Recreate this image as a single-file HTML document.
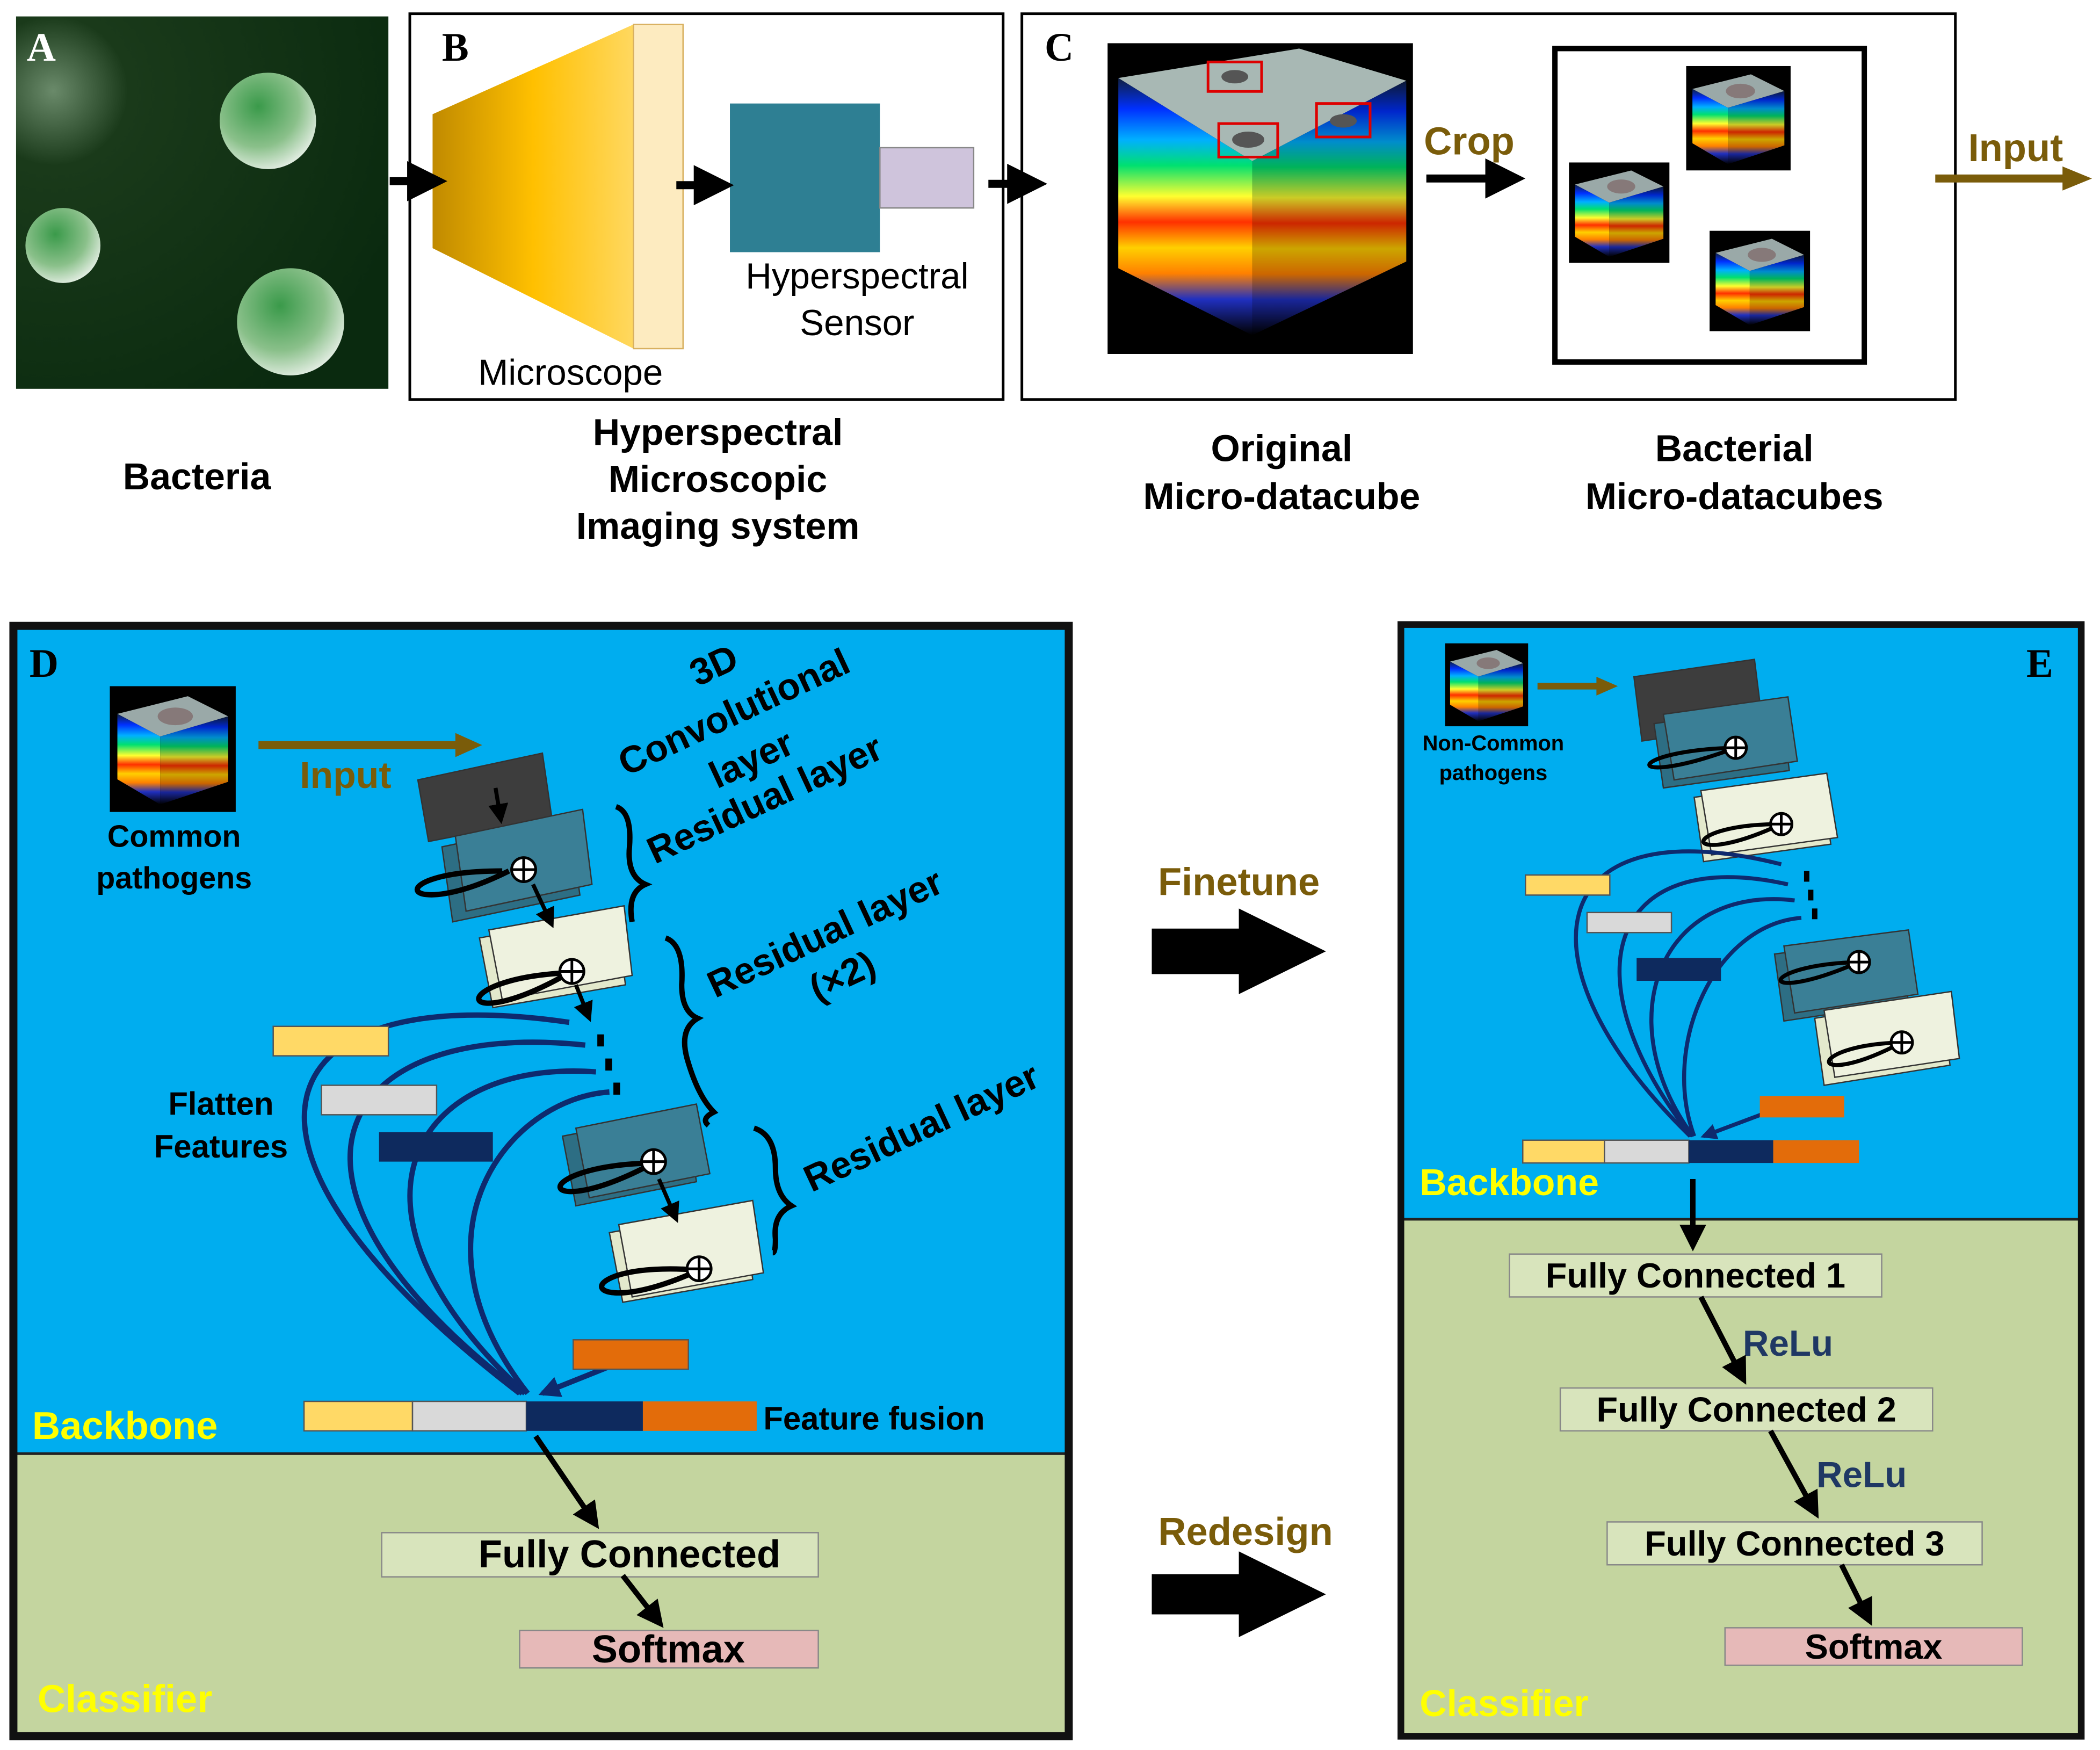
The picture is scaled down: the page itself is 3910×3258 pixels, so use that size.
<!DOCTYPE html>
<html><head><meta charset="utf-8"><style>
html,body{margin:0;padding:0;background:#fff}
svg{display:block}
text{font-family:"Liberation Sans",sans-serif}
text.serif{font-family:"Liberation Serif",serif}
.b{font-weight:bold}
</style></head><body>
<svg width="3910" height="3258" viewBox="0 0 1568 1306" xmlns="http://www.w3.org/2000/svg">
<defs>
<linearGradient id="spec" x1="0" y1="0" x2="0" y2="1">
<stop offset="0" stop-color="#102040"/><stop offset=".12" stop-color="#0030ff"/><stop offset=".24" stop-color="#00b0ff"/><stop offset=".34" stop-color="#00e070"/><stop offset=".46" stop-color="#ffff30"/><stop offset=".56" stop-color="#ff3000"/><stop offset=".66" stop-color="#ffd000"/><stop offset=".76" stop-color="#ff8000"/><stop offset=".86" stop-color="#2030c0"/><stop offset="1" stop-color="#000"/></linearGradient>
<linearGradient id="yel" x1="0" y1="0" x2="1" y2="0"><stop offset="0" stop-color="#c08a00"/><stop offset=".5" stop-color="#ffc000"/><stop offset="1" stop-color="#ffd860"/></linearGradient>
<radialGradient id="bg" cx=".1" cy=".2" r="1"><stop offset="0" stop-color="#6a8a6a"/><stop offset=".2" stop-color="#1a3a1a"/><stop offset="1" stop-color="#0a2a0f"/></radialGradient>
<radialGradient id="sph" cx=".4" cy=".35" r=".7"><stop offset="0" stop-color="#3a9a4a"/><stop offset=".6" stop-color="#8ac08a"/><stop offset="1" stop-color="#e8f0e8"/></radialGradient>
<symbol id="cube" viewBox="0 0 100 100">
<rect width="100" height="100" fill="#000"/>
<polygon points="6,22 62,8 94,24 40,40" fill="#9aa9a8"/>
<ellipse cx="52" cy="24" rx="14" ry="7" fill="#7a5a5a" opacity=".6"/>
<polygon points="6,22 40,40 40,94 6,74" fill="url(#spec)"/>
<polygon points="40,40 94,24 94,76 40,94" fill="url(#spec)"/>
<polygon points="40,40 94,24 94,76 40,94" fill="#000" opacity=".2"/>
</symbol>
<marker id="ah" viewBox="0 0 10 10" refX="8" refY="5" markerWidth="5" markerHeight="5" orient="auto"><path d="M0,0L10,5L0,10z" fill="#000"/></marker>
<marker id="ahn" viewBox="0 0 10 10" refX="8" refY="5" markerWidth="4" markerHeight="4" orient="auto"><path d="M0,0L10,5L0,10z" fill="#0e2a6e"/></marker>
</defs>

<!-- A -->
<rect x="12" y="12" width="278" height="278" fill="url(#bg)"/>
<circle cx="200" cy="90" r="36" fill="url(#sph)"/>
<circle cx="47" cy="183" r="28" fill="url(#sph)"/>
<circle cx="217" cy="240" r="40" fill="url(#sph)"/>
<text x="20" y="45" class="b serif" font-size="30" fill="#fff">A</text>
<!-- B -->
<rect x="306" y="10" width="443" height="288" fill="none" stroke="#000" stroke-width="2"/>
<text x="330" y="45" class="b serif" font-size="30">B</text>
<polygon points="323,85 473,18 473,260 323,185" fill="url(#yel)"/>
<rect x="473" y="18" width="37" height="242" fill="#fdebc0" stroke="#d8b060"/>
<rect x="545" y="77" width="112" height="111" fill="#2e7f93"/>
<rect x="657" y="110" width="70" height="45" fill="#cfc4dc" stroke="#888"/>
<text x="640" y="215" font-size="27" text-anchor="middle">Hyperspectral</text>
<text x="640" y="250" font-size="27" text-anchor="middle">Sensor</text>
<text x="426" y="287" font-size="27" text-anchor="middle">Microscope</text>
<g stroke="#000" stroke-width="6" marker-end="url(#ah)">
<line x1="291" y1="135" x2="328" y2="135"/><line x1="505" y1="138" x2="542" y2="138"/><line x1="738" y1="137" x2="776" y2="137"/>
<line x1="1065" y1="133" x2="1133" y2="133"/></g>
<!-- C -->
<rect x="763" y="10" width="697" height="288" fill="none" stroke="#000" stroke-width="2"/>
<text x="780" y="45" class="b serif" font-size="30">C</text>
<rect x="827" y="32" width="228" height="232" fill="#000"/>
<polygon points="835,58 970,36 1050,60 935,120" fill="#a8b8b4"/>
<polygon points="835,58 935,120 935,250 835,200" fill="url(#spec)"/>
<polygon points="935,120 1050,60 1050,195 935,250" fill="url(#spec)"/>
<polygon points="935,120 1050,60 1050,195 935,250" fill="#000" opacity=".2"/>
<g fill="none" stroke="#d00" stroke-width="2"><rect x="902" y="46" width="40" height="22"/><rect x="910" y="92" width="44" height="25"/><rect x="983" y="77" width="40" height="25"/></g>
<g fill="#555"><ellipse cx="922" cy="57" rx="10" ry="5"/><ellipse cx="932" cy="104" rx="12" ry="6"/><ellipse cx="1003" cy="90" rx="10" ry="5"/></g>
<text x="1097" y="115" class="b" font-size="29" fill="#7a5c0a" text-anchor="middle">Crop</text>
<rect x="1161" y="36" width="231" height="234" fill="none" stroke="#000" stroke-width="4"/>
<use href="#cube" x="1259" y="49" width="78" height="78"/>
<use href="#cube" x="1170" y="121" width="78" height="75"/>
<use href="#cube" x="1275" y="172" width="78" height="75"/>
<line x1="1445" y1="133" x2="1545" y2="133" stroke="#7a5c0a" stroke-width="6"/>
<polygon points="1540,124 1562,133 1540,142" fill="#7a5c0a"/>
<text x="1505" y="120" class="b" font-size="29" fill="#7a5c0a" text-anchor="middle">Input</text>
<g class="b" font-size="28" text-anchor="middle">
<text x="147" y="365">Bacteria</text>
<text x="536" y="332">Hyperspectral</text><text x="536" y="367">Microscopic</text><text x="536" y="402">Imaging system</text>
<text x="957" y="344">Original</text><text x="957" y="380">Micro-datacube</text>
<text x="1295" y="344">Bacterial</text><text x="1295" y="380">Micro-datacubes</text>
</g>

<!-- D -->
<rect x="10" y="467" width="788" height="618" fill="#00adef"/>
<rect x="10" y="1085" width="788" height="211" fill="#c4d59f"/>
<line x1="10" y1="1085" x2="798" y2="1085" stroke="#222" stroke-width="2"/>
<rect x="10" y="467" width="788" height="829" fill="none" stroke="#111" stroke-width="6"/>
<text x="22" y="505" class="b serif" font-size="30">D</text>
<use href="#cube" x="78" y="512" width="102" height="94"/>
<line x1="193" y1="556" x2="345" y2="556" stroke="#7a5c0a" stroke-width="6"/>
<polygon points="340,547 360,556 340,565" fill="#7a5c0a"/>
<text x="258" y="588" class="b" font-size="28" fill="#7a5c0a" text-anchor="middle">Input</text>
<text x="130" y="632" class="b" font-size="23" text-anchor="middle">Common</text>
<text x="130" y="663" class="b" font-size="23" text-anchor="middle">pathogens</text>
<g class="b" font-size="28" text-anchor="middle">
<text transform="translate(537,505) rotate(-25)">3D</text>
<text transform="translate(552,540) rotate(-25)">Convolutional</text>
<text transform="translate(565,575) rotate(-25)">layer</text>
<text transform="translate(575,605) rotate(-25)">Residual layer</text>
<text transform="translate(620,705) rotate(-25)">Residual layer</text>
<text transform="translate(633,737) rotate(-25)">(×2)</text>
<text transform="translate(692,850) rotate(-25)">Residual layer</text>
</g>
<g fill="none" stroke="#000" stroke-width="4">
<path d="M460,602 q12,4 10,30 q-2,22 12,28 q-14,6 -10,28"/>
<path d="M497,700 q14,5 12,35 q0,20 12,25 q-14,8 -8,30 q8,28 20,40 q-10,5 -4,10"/>
<path d="M563,842 q16,5 16,30 q0,20 12,28 q-14,6 -12,25 q0,10 -2,10"/>
</g>
<g stroke="#333" stroke-width="1">
<polygon points="312,582 405,562 412,610 320,628" fill="#3d3d3d"/>
<polygon points="330,632 425,612 433,668 338,688" fill="#2d6e84"/>
<polygon points="340,624 435,604 442,660 348,680" fill="#3a7f96"/>
<polygon points="358,700 460,682 467,735 368,752" fill="#e3e9cc"/>
<polygon points="365,694 466,676 472,728 375,746" fill="#eef2df"/>
<polygon points="420,848 512,830 520,882 430,900" fill="#2d6e84"/>
<polygon points="430,842 520,824 530,876 440,894" fill="#3a7f96"/>
<polygon points="455,920 556,902 562,955 465,972" fill="#e3e9cc"/>
<polygon points="462,914 562,896 570,950 472,968" fill="#eef2df"/>
</g>
<g fill="none" stroke="#000" stroke-width="4">
<path d="M375,650 C280,650 300,690 380,650"/>
<path d="M425,726 C330,730 340,775 425,726"/>
<path d="M488,868 C390,870 400,915 488,868"/>
<path d="M522,948 C420,940 430,990 522,948"/>
</g>
<g fill="#fff" stroke="#000" stroke-width="2"><circle cx="391" cy="649" r="9"/><circle cx="427" cy="725" r="9"/><circle cx="488" cy="867" r="9"/><circle cx="522" cy="947" r="9"/></g>
<g stroke="#000" stroke-width="2"><path d="M382,649h18M391,640v18M418,725h18M427,716v18M479,867h18M488,858v18M513,947h18M522,938v18"/></g>
<g stroke="#000" stroke-width="3" marker-end="url(#ah)"><line x1="370" y1="588" x2="374" y2="612"/><line x1="398" y1="660" x2="412" y2="690"/><line x1="430" y1="735" x2="440" y2="760"/><line x1="492" y1="880" x2="505" y2="910"/></g>
<g fill="#000"><rect x="446" y="772" width="5" height="9"/><rect x="452" y="790" width="5" height="9"/><rect x="458" y="808" width="5" height="9"/></g>
<g fill="none" stroke="#0e2a6e" stroke-width="4">
<path d="M425,763 C200,730 140,850 388,1040"/>
<path d="M437,780 C250,760 180,880 390,1040"/>
<path d="M445,800 C310,790 240,900 392,1040"/>
<path d="M455,815 C380,820 300,920 394,1040"/>
<path d="M460,1018 L405,1040" marker-end="url(#ahn)"/>
</g>
<rect x="204" y="766" width="86" height="22" fill="#ffd966" stroke="#555"/>
<rect x="240" y="810" width="86" height="22" fill="#d9d9d9" stroke="#555"/>
<rect x="283" y="845" width="85" height="22" fill="#0e2a5e"/>
<rect x="428" y="1000" width="86" height="22" fill="#e36c0a" stroke="#555"/>
<rect x="227" y="1046" width="81" height="22" fill="#ffd966" stroke="#555"/>
<rect x="308" y="1046" width="85" height="22" fill="#d9d9d9" stroke="#555"/>
<rect x="393" y="1046" width="87" height="22" fill="#0e2a5e"/>
<rect x="480" y="1046" width="85" height="22" fill="#e36c0a"/>
<text x="570" y="1067" class="b" font-size="24">Feature fusion</text>
<text x="165" y="832" class="b" font-size="24" text-anchor="middle">Flatten</text>
<text x="165" y="864" class="b" font-size="24" text-anchor="middle">Features</text>
<text x="24" y="1074" class="b" font-size="29" fill="#ffff00">Backbone</text>
<text x="28" y="1278" class="b" font-size="29" fill="#ffff00">Classifier</text>
<rect x="285" y="1144" width="326" height="33" fill="#d8e4bc" stroke="#888"/>
<text x="470" y="1170" class="b" font-size="29" text-anchor="middle">Fully Connected</text>
<rect x="388" y="1217" width="223" height="28" fill="#e6b9b8" stroke="#888"/>
<text x="499" y="1241" class="b" font-size="29" text-anchor="middle">Softmax</text>
<g stroke="#000" stroke-width="4" marker-end="url(#ah)"><line x1="400" y1="1072" x2="445" y2="1138"/><line x1="465" y1="1176" x2="493" y2="1212"/></g>

<text x="925" y="668" class="b" font-size="29" fill="#7a5c0a" text-anchor="middle">Finetune</text>
<polygon points="860,693 925,693 925,678 990,710 925,742 925,727 860,727" fill="#000"/>
<text x="930" y="1153" class="b" font-size="29" fill="#7a5c0a" text-anchor="middle">Redesign</text>
<polygon points="860,1175 925,1175 925,1158 990,1190 925,1222 925,1205 860,1205" fill="#000"/>

<!-- E -->
<rect x="1046" y="466" width="508" height="444" fill="#00adef"/>
<rect x="1046" y="910" width="508" height="386" fill="#c4d59f"/>
<line x1="1046" y1="910" x2="1554" y2="910" stroke="#222" stroke-width="2"/>
<rect x="1046" y="466" width="508" height="830" fill="none" stroke="#111" stroke-width="5"/>
<text x="1513" y="505" class="b serif" font-size="30">E</text>
<use href="#cube" x="1077" y="480" width="66" height="62"/>
<line x1="1148" y1="512" x2="1195" y2="512" stroke="#7a5c0a" stroke-width="5"/>
<polygon points="1192,505 1208,512 1192,519" fill="#7a5c0a"/>
<text x="1115" y="560" class="b" font-size="16" text-anchor="middle">Non-Common</text>
<text x="1115" y="582" class="b" font-size="16" text-anchor="middle">pathogens</text>
<g stroke="#333" stroke-width="1">
<polygon points="1220,505 1310,492 1316,540 1226,553" fill="#3d3d3d"/>
<polygon points="1235,540 1330,526 1336,575 1242,588" fill="#2d6e84"/>
<polygon points="1242,533 1335,520 1342,568 1250,582" fill="#3a7f96"/>
<polygon points="1265,595 1360,582 1367,630 1272,643" fill="#e3e9cc"/>
<polygon points="1270,590 1364,577 1372,625 1278,638" fill="#eef2df"/>
<polygon points="1325,712 1418,700 1425,748 1332,762" fill="#2d6e84"/>
<polygon points="1332,706 1425,694 1432,742 1340,756" fill="#3a7f96"/>
<polygon points="1355,760 1450,745 1456,795 1362,810" fill="#e3e9cc"/>
<polygon points="1362,754 1457,740 1463,790 1370,804" fill="#eef2df"/>
</g>
<g fill="none" stroke="#000" stroke-width="3">
<path d="M1296,558 C1210,560 1210,590 1296,558"/>
<path d="M1330,615 C1250,615 1255,650 1330,615"/>
<path d="M1388,718 C1310,720 1310,752 1388,718"/>
<path d="M1420,778 C1345,780 1350,815 1420,778"/>
</g>
<g fill="#fff" stroke="#000" stroke-width="2"><circle cx="1296" cy="558" r="8"/><circle cx="1330" cy="615" r="8"/><circle cx="1388" cy="718" r="8"/><circle cx="1420" cy="778" r="8"/></g>
<g stroke="#000" stroke-width="2"><path d="M1288,558h16M1296,550v16M1322,615h16M1330,607v16M1380,718h16M1388,710v16M1412,778h16M1420,770v16"/></g>
<g fill="#000"><rect x="1347" y="650" width="4" height="8"/><rect x="1350" y="664" width="4" height="8"/><rect x="1353" y="678" width="4" height="8"/></g>
<g fill="none" stroke="#0e2a6e" stroke-width="3">
<path d="M1330,645 C1150,600 1130,720 1262,848"/>
<path d="M1335,660 C1200,630 1170,730 1263,848"/>
<path d="M1340,672 C1240,660 1200,760 1264,848"/>
<path d="M1345,685 C1280,690 1240,780 1265,848"/>
<path d="M1320,830 L1272,848" marker-end="url(#ahn)"/>
</g>
<rect x="1139" y="653" width="63" height="15" fill="#ffd966" stroke="#555"/>
<rect x="1185" y="681" width="63" height="15" fill="#d9d9d9" stroke="#555"/>
<rect x="1222" y="715" width="63" height="17" fill="#0e2a5e"/>
<rect x="1314" y="818" width="63" height="16" fill="#e36c0a"/>
<rect x="1137" y="851" width="61" height="17" fill="#ffd966" stroke="#555"/>
<rect x="1198" y="851" width="63" height="17" fill="#d9d9d9" stroke="#555"/>
<rect x="1261" y="851" width="63" height="17" fill="#0e2a5e"/>
<rect x="1324" y="851" width="64" height="17" fill="#e36c0a"/>
<text x="1060" y="892" class="b" font-size="28" fill="#ffff00">Backbone</text>
<text x="1060" y="1281" class="b" font-size="28" fill="#ffff00">Classifier</text>
<rect x="1127" y="936" width="278" height="32" fill="#d8e4bc" stroke="#888"/>
<text x="1266" y="961" class="b" font-size="26" text-anchor="middle">Fully Connected 1</text>
<rect x="1165" y="1036" width="278" height="32" fill="#d8e4bc" stroke="#888"/>
<text x="1304" y="1061" class="b" font-size="26" text-anchor="middle">Fully Connected 2</text>
<rect x="1200" y="1136" width="280" height="32" fill="#d8e4bc" stroke="#888"/>
<text x="1340" y="1161" class="b" font-size="26" text-anchor="middle">Fully Connected 3</text>
<rect x="1288" y="1215" width="222" height="28" fill="#e6b9b8" stroke="#888"/>
<text x="1399" y="1238" class="b" font-size="26" text-anchor="middle">Softmax</text>
<text x="1335" y="1012" class="b" font-size="27" fill="#1f3864" text-anchor="middle">ReLu</text>
<text x="1390" y="1110" class="b" font-size="27" fill="#1f3864" text-anchor="middle">ReLu</text>
<g stroke="#000" stroke-width="4" marker-end="url(#ah)">
<line x1="1264" y1="880" x2="1264" y2="930"/><line x1="1270" y1="968" x2="1302" y2="1030"/>
<line x1="1322" y1="1068" x2="1356" y2="1130"/><line x1="1375" y1="1168" x2="1396" y2="1210"/></g>
</svg>
</body></html>
